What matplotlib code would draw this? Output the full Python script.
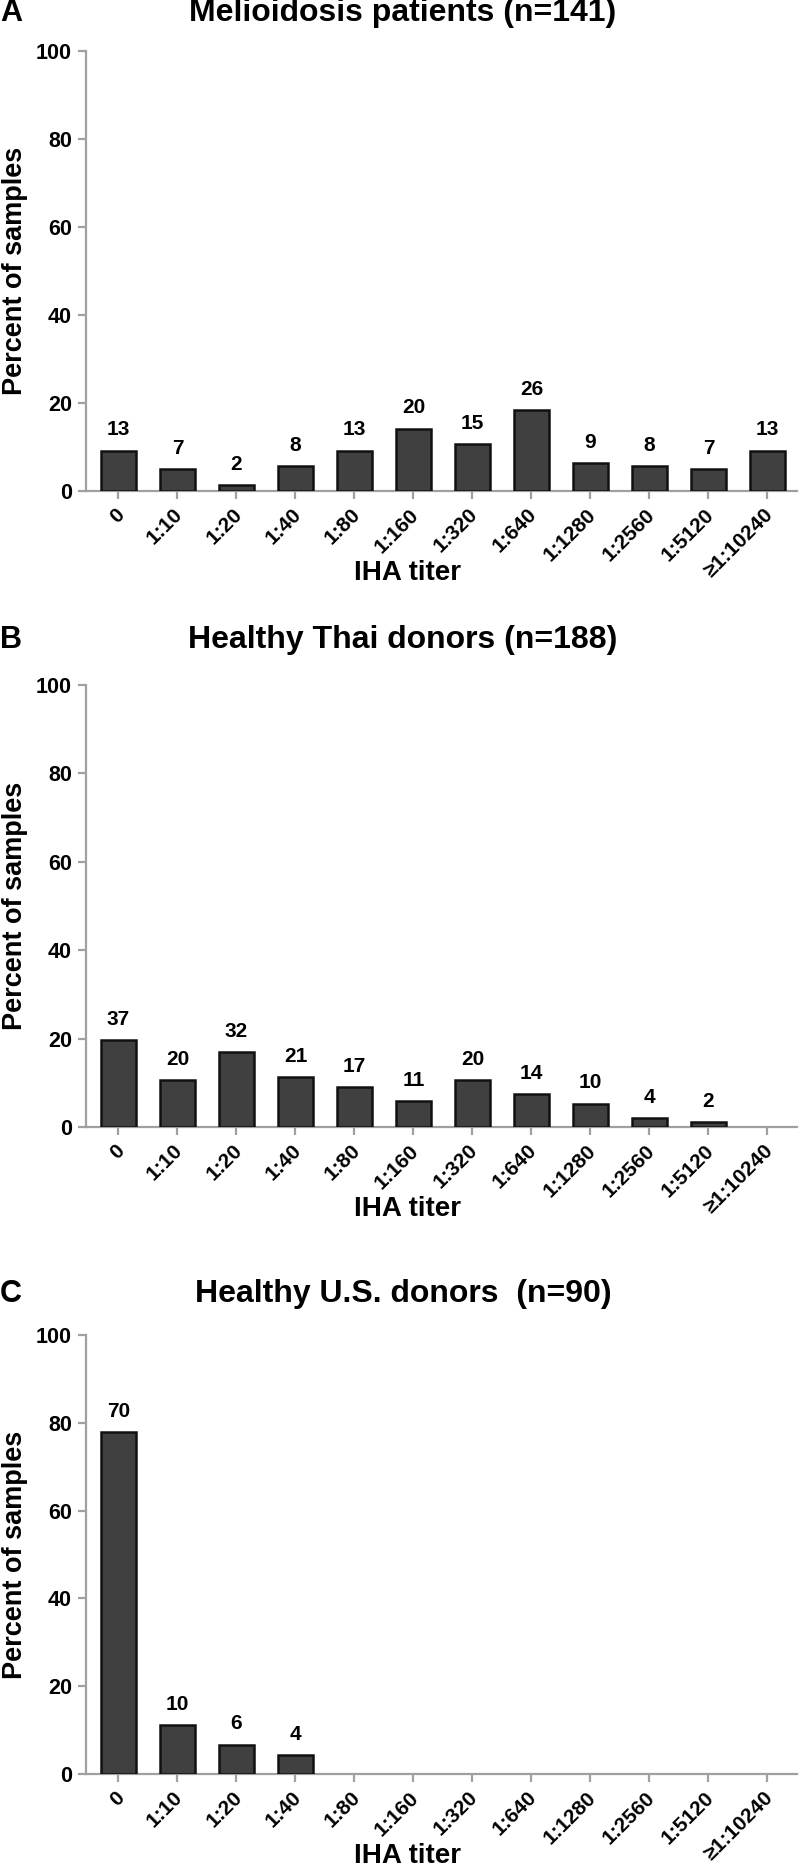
import matplotlib
matplotlib.use('Agg')
import matplotlib.pyplot as plt
import matplotlib.transforms as mtransforms

plt.rcParams['font.family'] = ['Liberation Sans', 'DejaVu Sans']
plt.rcParams['font.weight'] = 'bold'

titers = ['0', '1:10', '1:20', '1:40', '1:80', '1:160', '1:320', '1:640',
          '1:1280', '1:2560', '1:5120', '≥1:10240']

# panel A - melioidosis patients
pct_a = [9.2, 5.0, 1.4, 5.7, 9.2, 14.2, 10.6, 18.4, 6.4, 5.7, 5.0, 9.2]
n_a = [13, 7, 2, 8, 13, 20, 15, 26, 9, 8, 7, 13]
# panel B - healthy Thai donors
pct_b = [19.7, 10.6, 17.0, 11.2, 9.0, 5.9, 10.6, 7.4, 5.3, 2.1, 1.1, 0]
n_b = [37, 20, 32, 21, 17, 11, 20, 14, 10, 4, 2, 0]
# panel C - healthy U.S. donors
pct_c = [77.8, 11.1, 6.7, 4.4, 0, 0, 0, 0, 0, 0, 0, 0]
n_c = [70, 10, 6, 4, 0, 0, 0, 0, 0, 0, 0, 0]

letters = ['A', 'B', 'C']
titles = ['Melioidosis patients (n=141)', 'Healthy Thai donors (n=188)',
          'Healthy U.S. donors  (n=90)']

W, H = 800, 1867
fig = plt.figure(figsize=(W / 100, H / 100), dpi=100)

# pixel layout: (title y, axes top, axes bottom)
rows = [(13, 51, 491), (640, 685, 1127), (1294, 1335, 1774)]
left, right = 86, 797
grey = '#a0a0a0'

for i, (pct, counts) in enumerate([(pct_a, n_a), (pct_b, n_b), (pct_c, n_c)]):
    ty, top, bot = rows[i]
    ax = fig.add_axes([left / W, 1 - bot / H, (right - left) / W, (bot - top) / H])
    x = list(range(len(titers)))
    xs = [xi for xi, p in zip(x, pct) if p > 0]
    ps = [p for p in pct if p > 0]
    ax.bar(xs, ps, width=0.6, color='#404040', edgecolor='#111111', linewidth=1.8, zorder=3)
    for xi, p, c in zip(x, pct, counts):
        if c > 0:
            ax.annotate(str(c), (xi, p), xytext=(0, 8), textcoords='offset points',
                        ha='center', va='bottom', fontsize=15, fontweight='bold')
    ax.set_xlim(-0.55, 11.5)
    ax.set_ylim(0, 100)
    ax.set_yticks([0, 20, 40, 60, 80, 100])
    ax.set_xticks(x)
    ax.set_xticklabels(titers, rotation=45, ha='right', va='top', rotation_mode='anchor')
    ax.tick_params(axis='both', labelsize=15.5, color=grey, width=1.6, length=6, pad=4)
    shift = mtransforms.ScaledTranslation(-3 / 72, 0, fig.dpi_scale_trans)
    for lab in ax.get_xticklabels():
        lab.set_fontweight('bold')
        lab.set_fontsize(15)
        lab.set_transform(lab.get_transform() + shift)
    for lab in ax.get_yticklabels():
        lab.set_fontweight('bold')
    for s in ['top', 'right']:
        ax.spines[s].set_visible(False)
    for s in ['left', 'bottom']:
        ax.spines[s].set_color(grey)
        ax.spines[s].set_linewidth(1.6)
    ax.set_xlabel('IHA titer', fontsize=20, fontweight='bold')
    ax.xaxis.set_label_coords(0.452, -82 / (bot - top))
    ax.xaxis.label.set_va('center')
    fig.text(15 / W, 1 - (top + bot) / 2 / H, 'Percent of samples', rotation=90,
             ha='center', va='center', fontsize=19.5, fontweight='bold')
    fig.text(0, 1 - ty / H, letters[i], ha='left', va='center', fontsize=22, fontweight='bold')
    fig.text(403 / W, 1 - ty / H, titles[i], ha='center', va='center', fontsize=23, fontweight='bold')

plt.savefig('out.png', dpi=100)
